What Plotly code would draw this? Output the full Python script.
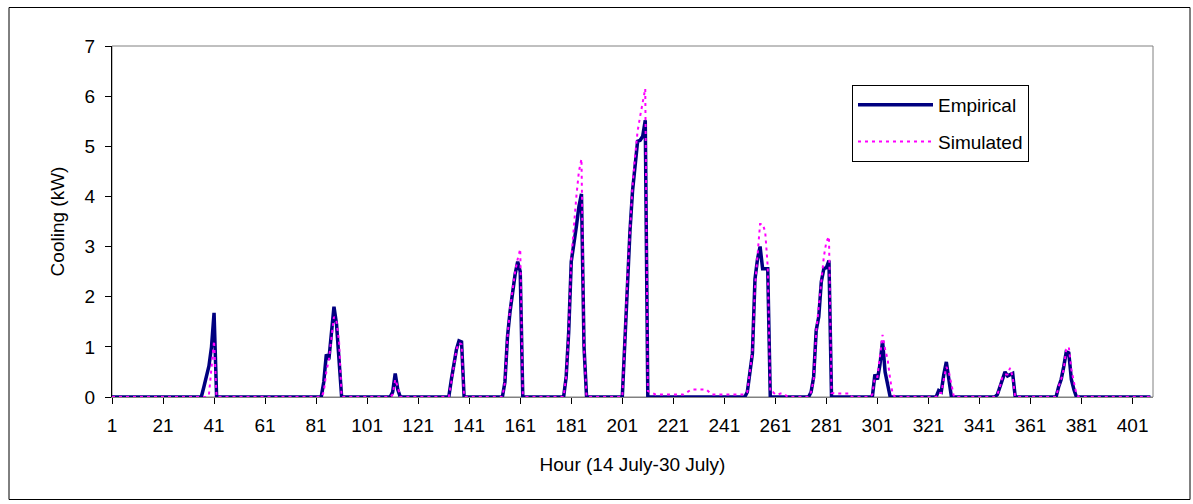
import plotly.graph_objects as go

# Hours 1..408 (14 July - 30 July)
n_hours = 408
hours = list(range(1, n_hours + 1))

x_tick_values = [1, 21, 41, 61, 81, 101, 121, 141, 161, 181, 201, 221, 241, 261, 281, 301, 321, 341, 361, 381, 401]
y_tick_values = [0, 1, 2, 3, 4, 5, 6, 7]

# Non-zero episodes: (first hour, values for consecutive hours)
empirical_starts = [36, 83, 111, 134, 155, 179, 202, 250, 275, 300, 325, 348, 372]
empirical_values = [
    [0.0, 0.2, 0.42, 0.62, 1.0, 1.68, 0.0],
    [0.0, 0.3, 0.85, 0.75, 1.3, 1.8, 1.45, 0.7, 0.0],
    [0.1, 0.47, 0.15, 0.0],
    [0.35, 0.65, 0.95, 1.12, 1.1, 0.0],
    [0.3, 1.2, 1.7, 2.1, 2.45, 2.7, 2.5, 0.0],
    [0.4, 1.3, 2.7, 3.0, 3.4, 3.8, 4.05, 1.0, 0.0],
    [1.1, 2.4, 3.3, 4.1, 4.6, 5.1, 5.12, 5.2, 5.52, 0.0],
    [0.1, 0.5, 0.87, 2.35, 2.75, 3.0, 2.56, 2.56, 2.56, 0.0],
    [0.1, 0.4, 1.33, 1.6, 2.3, 2.56, 2.58, 2.72, 0.0],
    [0.45, 0.35, 0.65, 1.12, 0.5, 0.25, 0.0],
    [0.13, 0.1, 0.45, 0.7, 0.35, 0.0],
    [0.05, 0.2, 0.4, 0.5, 0.42, 0.45, 0.47, 0.0],
    [0.2, 0.35, 0.6, 0.9, 0.88, 0.35, 0.15, 0.0],
]

simulated_starts = [39, 84, 111, 134, 155, 179, 202, 250, 275, 299, 325, 348, 372]
simulated_values = [
    [0.05, 0.55, 1.12, 0.0],
    [0.1, 0.5, 0.75, 1.2, 1.6, 1.5, 1.1, 0.0],
    [0.05, 0.35, 0.2, 0.0],
    [0.3, 0.6, 0.95, 1.08, 1.05, 0.0],
    [0.3, 1.2, 1.75, 2.15, 2.5, 2.75, 2.95, 0.05],
    [0.4, 1.3, 2.75, 3.4, 4.0, 4.5, 4.75, 1.0, 0.0],
    [1.1, 2.4, 3.3, 4.2, 4.8, 5.3, 5.6, 5.9, 6.15,
     0.12, 0.1, 0.08,
     0.05, 0.05, 0.05, 0.05, 0.05, 0.05, 0.05, 0.05, 0.05, 0.05, 0.05, 0.05,
     0.08, 0.12,
     0.15, 0.15, 0.15, 0.15, 0.15, 0.15, 0.15,
     0.1,
     0.05, 0.05, 0.05, 0.05, 0.05, 0.05, 0.05, 0.05, 0.05, 0.05, 0.05, 0.05, 0.05, 0.05],
    [0.1, 0.45, 0.9, 2.2, 2.8, 3.45, 3.45, 3.3, 2.6, 0.1, 0.1, 0.05, 0.05, 0.07, 0.07, 0.03],
    [0.1, 0.35, 1.3, 1.8, 2.3, 2.8, 3.1, 3.2, 0.08, 0.07, 0.07, 0.07, 0.07, 0.07, 0.07, 0.07],
    [0.05, 0.4, 0.4, 0.8, 1.24, 0.95, 0.75, 0.35, 0.05],
    [0.08, 0.08, 0.35, 0.6, 0.5, 0.25, 0.0],
    [0.05, 0.2, 0.4, 0.45, 0.45, 0.58, 0.4, 0.0],
    [0.2, 0.35, 0.55, 0.95, 1.0, 0.55, 0.3, 0.05],
]


def build_series(starts, values):
    s = [0.0] * n_hours
    for start, vals in zip(starts, values):
        for i, v in enumerate(vals):
            s[start - 1 + i] = v
    return s


empirical = build_series(empirical_starts, empirical_values)
simulated = build_series(simulated_starts, simulated_values)

FONT = "Liberation Sans, Arial, sans-serif"

fig = go.Figure()
fig.add_trace(go.Scatter(
    x=hours, y=empirical, mode="lines", name="Empirical",
    line=dict(color="#000080", width=3.5), cliponaxis=False, legendgroup="a",
))
fig.add_trace(go.Scatter(
    x=hours, y=simulated, mode="lines", name="Simulated",
    line=dict(color="#FF00FF", width=2, dash="3px,4px"), cliponaxis=False, legendgroup="b",
))

L, R, T, B = 112, 40, 46, 107
W, H = 1193, 504
pw, ph = W - L - R, H - T - B


def px_to_paper_x(px):
    return (px - L) / pw


def px_to_paper_y(py):
    return (H - B - py) / ph


fig.update_layout(
    width=W, height=H,
    margin=dict(l=L, r=R, t=T, b=B),
    paper_bgcolor="white", plot_bgcolor="white",
    font=dict(family=FONT, size=19, color="black"),
    showlegend=True,
    legend=dict(
        x=px_to_paper_x(852), y=px_to_paper_y(85), xanchor="left", yanchor="top",
        bordercolor="black", borderwidth=1, bgcolor="white",
        itemwidth=75, traceorder="grouped", tracegroupgap=9,
        font=dict(family=FONT, size=19, color="black"),
    ),
    xaxis=dict(
        range=[1, 409], tickmode="array", tickvals=x_tick_values,
        ticktext=[str(v) for v in x_tick_values],
        ticks="outside", ticklen=6, tickcolor="black", tickwidth=1,
        showline=True, linecolor="#808080", linewidth=1,
        showgrid=False, zeroline=False, ticklabelstandoff=5,
        title=dict(text="Hour (14 July-30 July)", standoff=22, font=dict(size=19)),
        automargin=False,
    ),
    yaxis=dict(
        range=[0, 7], tickmode="array", tickvals=y_tick_values,
        ticks="outside", ticklen=6, tickcolor="black", tickwidth=1,
        showline=True, linecolor="black", linewidth=1,
        showgrid=False, zeroline=False, ticklabelstandoff=6,
        title=dict(text="Cooling (kW)", standoff=14, font=dict(size=19)),
        automargin=False,
    ),
    shapes=[
        dict(type="rect", xref="paper", yref="paper", x0=0, x1=1, y0=0, y1=1,
             line=dict(color="#808080", width=1), layer="below"),
        dict(type="rect", xref="paper", yref="paper",
             x0=px_to_paper_x(9), x1=px_to_paper_x(1190),
             y0=px_to_paper_y(499.5), y1=px_to_paper_y(7.5),
             line=dict(color="black", width=1), layer="below"),
    ],
)

fig.write_html("out.html")
